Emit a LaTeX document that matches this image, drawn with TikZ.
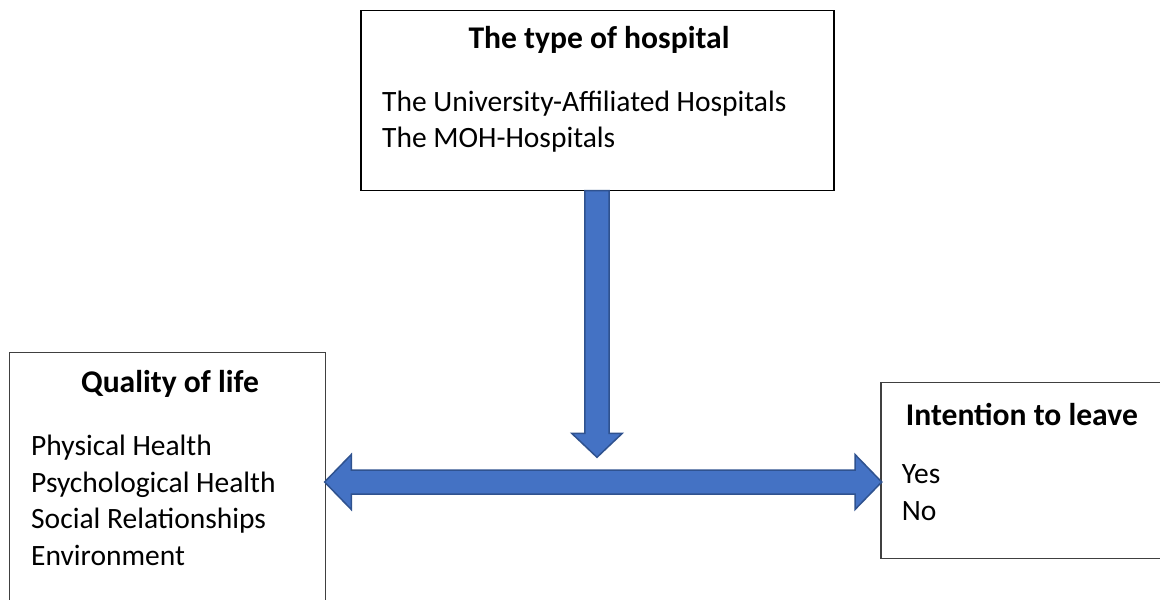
\documentclass[tikz,border=0pt]{standalone}
\usepackage{fontspec}
\setmainfont{Carlito}
\usetikzlibrary{calc}
\definecolor{arrowfill}{HTML}{4472C4}
\definecolor{arrowline}{HTML}{2F528F}

\begin{document}
\begin{tikzpicture}[x=1pt,y=-1pt,
  box/.style={draw=#1, line width=1.3pt, inner sep=0pt, outer sep=0pt,
    rectangle, anchor=north west},
  box/.default=black,
  title/.style={font=\fontsize{31.6}{38}\selectfont\bfseries, inner sep=0pt, anchor=base},
  body/.style={font=\fontsize{29.5}{36}\selectfont, inner sep=0pt, anchor=base west},
  blockarrow/.style={fill=arrowfill, draw=arrowline, line width=1.5pt, line join=miter}]

  % page frame
  \clip (0,0) rectangle (1160,600);
  \fill[white] (0,0) rectangle (1160,600);

  % the three boxes
  \node[box, minimum width=473pt, minimum height=180pt] (hosp) at (361,10.7) {};
  \node[box=black!75, minimum width=316pt, minimum height=270pt] (qol) at (9.3,352.3) {};
  \node[box=black!75, minimum width=300pt, minimum height=176pt] (intent) at (881,382.3) {};

  % hospital type
  \node[title] (hospT) at (599,48.6) {The type of hospital};
  \node[body] (hosp1) at (382,111.4) {The University-Affiliated Hospitals};
  \node[body] (hosp2) at (382,147.4) {The MOH-Hospitals};

  % quality of life
  \node[title] (qolT) at (170,392.5) {Quality of life};
  \node[body] (qol1) at (31,455.7) {Physical Health};
  \node[body] (qol2) at (31,492.2) {Psychological Health};
  \node[body] (qol3) at (31,528.8) {Social Relationships};
  \node[body] (qol4) at (31,565.4) {Environment};

  % intention to leave
  \node[title, anchor=base west] (intentT) at (905.7,425) {Intention to leave};
  \node[body] (intent1) at (901.7,483.7) {Yes};
  \node[body] (intent2) at (901.7,520.4) {No};

  % vertical block arrow from the hospital box
  \coordinate (dtop) at ($(hosp.south)+(-0.5,0)$);
  \coordinate (dtip) at ($(dtop)+(0,266.6)$);
  \draw[blockarrow] ($(dtop)+(-12.2,0)$) -- ($(dtop)+(12.2,0)$)
    -- ($(dtip)+(12.2,-24)$) -- ($(dtip)+(25.3,-24)$) -- (dtip)
    -- ($(dtip)+(-25.3,-24)$) -- ($(dtip)+(-12.2,-24)$) -- cycle;

  % double block arrow between quality of life and intention to leave
  \coordinate (ltip) at ($(qol.north east)+(-0.7,129.7)$);
  \coordinate (rtip) at ($(intent.north west)+(0.7,99.7)$);
  \draw[blockarrow] (ltip) -- ($(ltip)+(26.7,-27.5)$) -- ($(ltip)+(26.7,-12)$)
    -- ($(rtip)+(-26.7,-12)$) -- ($(rtip)+(-26.7,-27.5)$) -- (rtip)
    -- ($(rtip)+(-26.7,27.5)$) -- ($(rtip)+(-26.7,12)$)
    -- ($(ltip)+(26.7,12)$) -- ($(ltip)+(26.7,27.5)$) -- cycle;
\end{tikzpicture}
\end{document}
